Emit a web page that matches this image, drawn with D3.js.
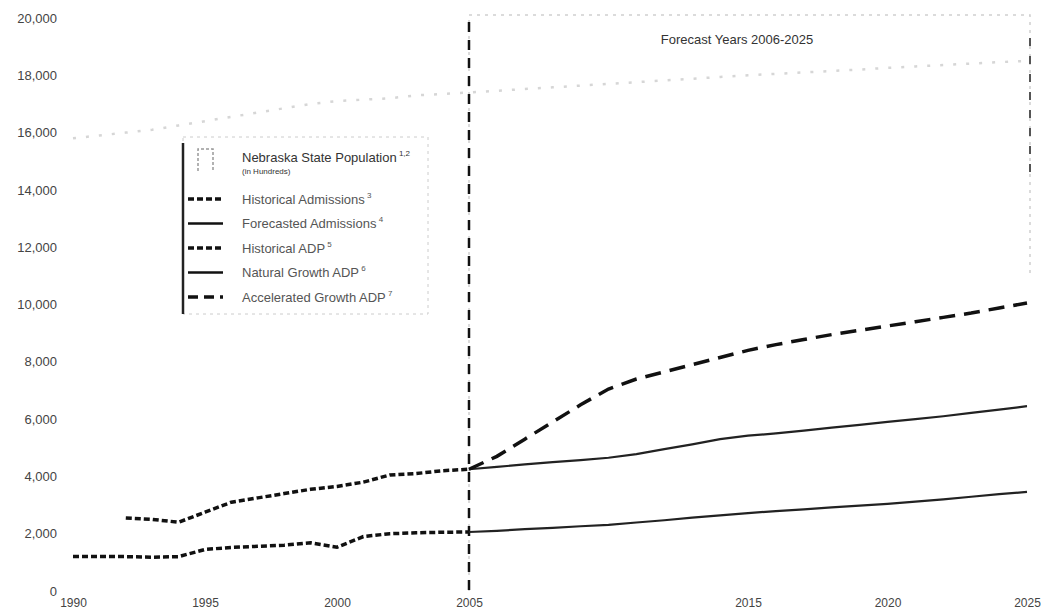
<!DOCTYPE html>
<html>
<head>
<meta charset="utf-8">
<script src="https://cdn.jsdelivr.net/npm/d3@7"></script>
<style>
  body { margin: 0; background: #fff; }
  text { font-family: "Liberation Sans Narrow", "Arial Narrow", "Liberation Sans", sans-serif; fill: #333; }
</style>
</head>
<body>
<script>
// values (hundreds for population)
const histYears = d3.range(1990, 2006)
const foreYears = d3.range(2005, 2026)
const popYears = d3.range(1990, 2026)

const historicalAdmissions = [null, null, 2550, 2500, 2400, 2750, 3100, 3250, 3400, 3550, 3650, 3800, 4050, 4100, 4200, 4250]
const historicalADP = [1200, 1200, 1200, 1180, 1200, 1450, 1520, 1560, 1600, 1680, 1530, 1900, 2000, 2030, 2050, 2060]
const forecastedAdmissions = [4250, 4330, 4420, 4500, 4570, 4650, 4780, 4950, 5120, 5300, 5420, 5500, 5600, 5700, 5800, 5900, 6000, 6100, 6220, 6330, 6450]
const naturalGrowthADP = [2060, 2100, 2160, 2200, 2260, 2310, 2390, 2470, 2560, 2640, 2720, 2790, 2850, 2920, 2980, 3040, 3120, 3200, 3290, 3380, 3460]
const acceleratedGrowthADP = [4250, 4700, 5300, 5900, 6500, 7050, 7400, 7650, 7900, 8150, 8400, 8600, 8780, 8950, 9100, 9250, 9400, 9550, 9700, 9880, 10050]
const statePopulation = [15800, 15900, 16000, 16100, 16250, 16400, 16550, 16700, 16850, 17000, 17100, 17150, 17200, 17300, 17350, 17400,
                         17460, 17520, 17580, 17640, 17700, 17760, 17820, 17880, 17940, 18000, 18050, 18100, 18150, 18200, 18260, 18310, 18360, 18410, 18460, 18500]

const yTicks = [0, 2000, 4000, 6000, 8000, 10000, 12000, 14000, 16000, 18000, 20000]
const xTicks = [1990, 1995, 2000, 2005, 2015, 2020, 2025]

const w = 1042
const h = 614

const svg = d3.select("body")
              .append("svg")
              .attr("width", w)
              .attr("height", h)

// scan is slightly stretched right of 2005, so a two-piece scale
const x = d3.scaleLinear()
            .domain([1990, 2005, 2025])
            .range([73, 469, 1027])

const y = d3.scaleLinear()
            .domain([0, 20000])
            .range([591, 18])

const yAxis = d3.axisLeft(y)
                .tickValues(yTicks)
                .tickFormat(d3.format(","))
                .tickSize(0)
                .tickPadding(0)

const xAxis = d3.axisBottom(x)
                .tickValues(xTicks)
                .tickFormat(d3.format("d"))
                .tickSize(0)
                .tickPadding(0)

svg.append("g")
   .attr("transform", "translate(57, 0)")
   .call(yAxis)
   .call(g => g.select(".domain").remove())
   .selectAll("text")
   .style("font-size", "13px")
   .style("fill", "#444")
   .attr("dy", "0.32em")

svg.append("g")
   .attr("transform", "translate(0, 596)")
   .call(xAxis)
   .call(g => g.select(".domain").remove())
   .selectAll("text")
   .style("font-size", "12px")
   .style("fill", "#444")
   .attr("dy", "0.9em")

// forecast box
svg.append("path")
   .attr("d", `M${x(2005)},${y(0)}V${y(20000) - 3}H${x(2025) + 3}V${y(11000)}`)
   .attr("fill", "none")
   .attr("stroke", "#d0d0d0")
   .attr("stroke-width", 1.5)
   .attr("stroke-dasharray", "3,5")

svg.append("line")
   .attr("x1", x(2005)).attr("x2", x(2005))
   .attr("y1", y(20000) + 4).attr("y2", y(0))
   .attr("stroke", "#111")
   .attr("stroke-width", 2.5)
   .attr("stroke-dasharray", "10,8")

svg.append("line")
   .attr("x1", x(2025) + 3).attr("x2", x(2025) + 3)
   .attr("y1", y(19300)).attr("y2", y(14500))
   .attr("stroke", "#555")
   .attr("stroke-width", 2)
   .attr("stroke-dasharray", "8,10")

svg.append("text")
   .attr("x", 737)
   .attr("y", 44)
   .attr("text-anchor", "middle")
   .style("font-size", "13px")
   .text("Forecast Years  2006-2025")

const line = d3.line()
               .defined(d => d[1] != null)
               .x(d => x(d[0]))
               .y(d => y(d[1]))

const series = [
  { name: "pop", years: popYears, values: statePopulation, color: "#d6d6d6", width: 2.5, dash: "3,10" },
  { name: "histAdm", years: histYears, values: historicalAdmissions, color: "#111", width: 3.5, dash: "6,3" },
  { name: "histADP", years: histYears, values: historicalADP, color: "#111", width: 3.5, dash: "6,3" },
  { name: "foreAdm", years: foreYears, values: forecastedAdmissions, color: "#222", width: 2.2, dash: null },
  { name: "natADP", years: foreYears, values: naturalGrowthADP, color: "#222", width: 2.2, dash: null },
  { name: "accADP", years: foreYears, values: acceleratedGrowthADP, color: "#111", width: 3.5, dash: "16,9" }
]

svg.selectAll("path.series")
   .data(series)
   .enter()
   .append("path")
   .attr("class", "series")
   .attr("fill", "none")
   .attr("stroke", d => d.color)
   .attr("stroke-width", d => d.width)
   .attr("stroke-dasharray", d => d.dash)
   .attr("d", d => line(d.years.map((yr, i) => [yr, d.values[i]])))

// legend
const legend = svg.append("g")
                  .attr("id", "legend")

legend.append("rect")
      .attr("x", 183)
      .attr("y", 137)
      .attr("width", 245)
      .attr("height", 177)
      .attr("fill", "#fff")
      .attr("stroke", "#ccc")
      .attr("stroke-dasharray", "3,4")

legend.append("line")
      .attr("x1", 183).attr("x2", 183)
      .attr("y1", 143).attr("y2", 314)
      .attr("stroke", "#222")
      .attr("stroke-width", 2.5)

legend.append("path")
      .attr("d", "M198,171V149H213V171")
      .attr("fill", "none")
      .attr("stroke", "#999")
      .attr("stroke-width", 1.5)
      .attr("stroke-dasharray", "3,2")

legend.append("text")
      .attr("x", 242).attr("y", 162)
      .style("font-size", "13px")
      .text("Nebraska State Population")
      .append("tspan")
      .attr("dy", "-6")
      .style("font-size", "8px")
      .text(" 1,2")

legend.append("text")
      .attr("x", 242).attr("y", 174)
      .style("font-size", "8px")
      .text("(in Hundreds)")

const legendRows = [
  { label: "Historical Admissions", sup: "3", width: 3.5, dash: "6,3" },
  { label: "Forecasted Admissions", sup: "4", width: 2.5, dash: null },
  { label: "Historical ADP", sup: "5", width: 3.5, dash: "6,3" },
  { label: "Natural Growth ADP", sup: "6", width: 2.5, dash: null },
  { label: "Accelerated Growth ADP", sup: "7", width: 3.5, dash: "10,6" }
]

const rows = legend.selectAll("g.legend-line")
                   .data(legendRows)
                   .enter()
                   .append("g")
                   .attr("class", "legend-line")
                   .attr("transform", (d, i) => "translate(0," + (199 + i * 24.5) + ")")

rows.append("line")
    .attr("x1", 188).attr("x2", 223)
    .attr("stroke", "#111")
    .attr("stroke-width", d => d.width)
    .attr("stroke-dasharray", d => d.dash)

const rowText = rows.append("text")
                    .attr("x", 242)
                    .attr("dy", "0.35em")
                    .style("font-size", "13px")
                    .style("fill", "#555")
                    .text(d => d.label)

rowText.append("tspan")
       .attr("dy", "-6")
       .style("font-size", "8px")
       .text(d => " " + d.sup)
</script>
</body>
</html>
